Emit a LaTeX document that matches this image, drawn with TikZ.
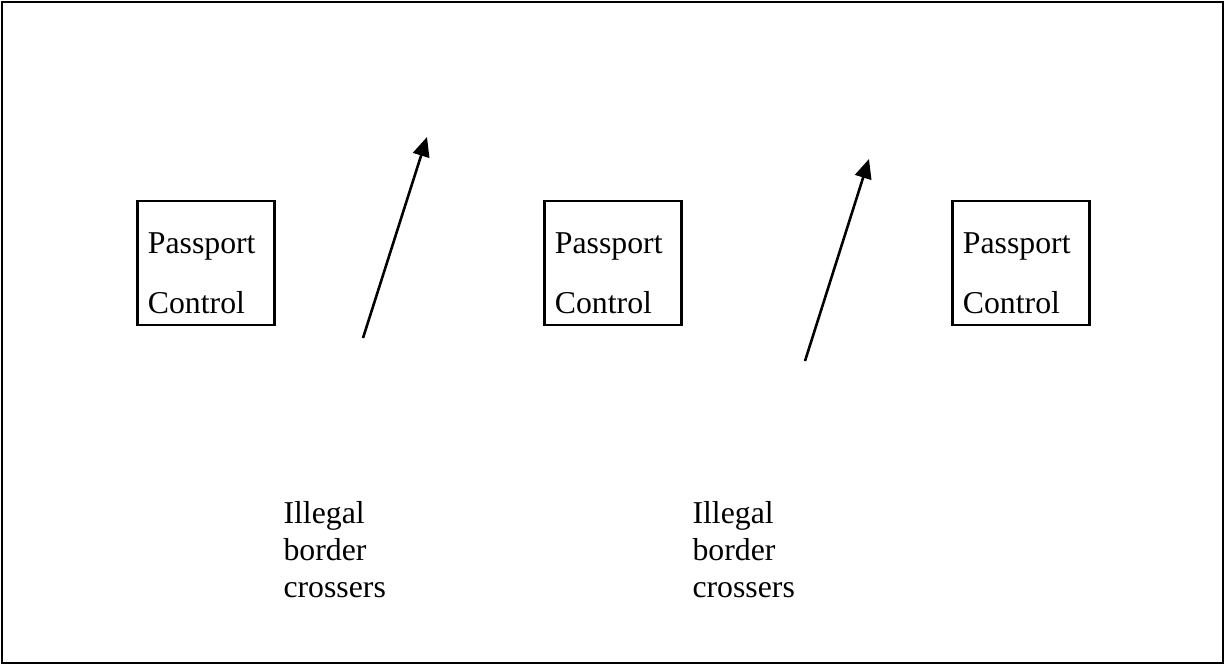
\documentclass[tikz,border=0pt]{standalone}
\usepackage{fontspec}
\setmainfont{Liberation Serif}
\usepackage{tikz}
\usetikzlibrary{arrows.meta, positioning}
\tikzset{
    frame/.style={draw, line width=0.9pt},
    passbox/.style={rectangle, draw, line width=0.9pt, minimum width=53pt, minimum height=48pt, inner sep=0pt},
    boxtext/.style={anchor=base west, align=left, inner sep=0pt, font=\fontsize{12.3pt}{23.2pt}\selectfont},
    crosstext/.style={anchor=base west, align=left, inner sep=0pt, font=\fontsize{12.3pt}{14.3pt}\selectfont},
    crossarrow/.style={-{Triangle[length=7.5pt, width=6.5pt]}, line width=1pt}
}
\begin{document}
\begin{tikzpicture}[x=0.3871pt, y=-0.3871pt]
    \useasboundingbox (0,0) rectangle (1225,665);
    \draw[frame] (2,2) rectangle (1223,663);

    % passport control points
    \node (pc1) [passbox] at (206,263) {};
    \node (pc2) [passbox] at (613,263) {};
    \node (pc3) [passbox] at (1021,263) {};
    \node (pc1txt) [boxtext] at ([shift={(11,114)}]pc1.north west) {Passport\\Control};
    \node (pc2txt) [boxtext] at ([shift={(11,114)}]pc2.north west) {Passport\\Control};
    \node (pc3txt) [boxtext] at ([shift={(11,114)}]pc3.north west) {Passport\\Control};

    % illegal crossings
    \coordinate (tail1) at (363,338);
    \coordinate (head1) at (427,137);
    \coordinate (tail2) at (805,361);
    \coordinate (head2) at (869,159);
    \draw[crossarrow] (tail1) -- (head1);
    \draw[crossarrow] (tail2) -- (head2);

    \node (ill1) [crosstext] at (283,597) {Illegal\\border\\crossers};
    \node (ill2) [crosstext] at (692,597) {Illegal\\border\\crossers};
\end{tikzpicture}
\end{document}
